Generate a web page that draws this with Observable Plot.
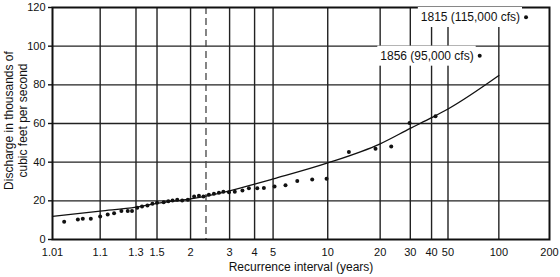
<!DOCTYPE html>
<html>
<head>
<meta charset="utf-8">
<script src="https://cdn.jsdelivr.net/npm/d3@7"></script>
<script src="https://cdn.jsdelivr.net/npm/@observablehq/plot@0.6"></script>
<style>
  body { margin: 0; background: #fff; }
  #chart svg { display: block; }
</style>
</head>
<body>
<div id="chart"></div>
<script>
// Axis ticks
const recurrenceTicks = [1.01, 1.1, 1.3, 1.5, 2, 3, 4, 5, 10, 20, 30, 40, 50, 100, 200];
const dischargeTicks = [0, 20, 40, 60, 80, 100, 120];

// Annual peak discharges (thousands of cfs) and their recurrence intervals (years)
const peakInterval = [1.02, 1.04, 1.05, 1.07, 1.10, 1.13, 1.16, 1.20, 1.24, 1.27,
  1.31, 1.35, 1.40, 1.45, 1.50, 1.58, 1.64, 1.70, 1.77, 1.85,
  1.95, 2.07, 2.17, 2.27, 2.40, 2.53, 2.67, 2.80, 2.98, 3.18,
  3.47, 3.74, 4.13, 4.47, 5.09, 5.83, 6.76, 8.18, 9.85, 13.2,
  18.8, 23.2, 29.7, 42.2];
const peakDischarge = [9.2, 10.3, 10.7, 10.7, 11.9, 12.9, 13.6, 14.8, 14.8, 14.8,
  16.4, 17.1, 17.6, 18.5, 19.0, 19.3, 19.8, 20.2, 20.5, 20.2,
  20.5, 22.2, 22.6, 22.2, 23.1, 23.6, 24.2, 24.7, 24.5, 24.7,
  25.3, 26.5, 26.5, 26.7, 27.4, 28.1, 30.2, 31.0, 31.4, 45.2,
  46.9, 48.1, 60.2, 63.8];

// Historic floods labelled on the chart
const historicLabels = ["1815 (115,000 cfs)", "1856 (95,000 cfs)"];
const historicInterval = [145, 77];
const historicDischarge = [115, 95];

// Fitted frequency curve
const fitInterval = [1.01, 1.1, 1.3, 1.5, 2, 3, 4, 5, 10, 20, 30, 40, 50, 100];
const fitDischarge = [12.0, 14.7, 16.7, 18.7, 21.0, 25.2, 28.6, 31.3, 39.6, 49.5, 57.5, 63.0, 67.5, 84.8];

// Mean annual flood (2.33-year recurrence interval)
const meanFloodInterval = [2.33];

// Gumbel extreme-value probability paper: reduced variate of the recurrence interval
const gumbel = T => -Math.log(-Math.log(1 - 1 / T));

const peaks = peakInterval.map((t, i) => ({t, q: peakDischarge[i]}));
const historic = historicInterval.map((t, i) => ({t, q: historicDischarge[i], label: historicLabels[i]}));
const fit = fitInterval.map((t, i) => ({t, q: fitDischarge[i]}));

const tickPositions = recurrenceTicks.map(gumbel);
const tickText = new Map(recurrenceTicks.map(t => [gumbel(t), String(t)]));

const font = "'Liberation Sans', Arial, Helvetica, sans-serif";

const chart = Plot.plot({
  width: 560,
  height: 277,
  marginLeft: 52,
  marginRight: 11,
  marginTop: 7,
  marginBottom: 38,
  style: {fontFamily: font, fontSize: "11px", color: "#111", background: "#fff"},
  x: {type: "linear", domain: [gumbel(1.01), gumbel(200)]},
  y: {domain: [0, 120]},
  marks: [
    // grid
    Plot.ruleX(tickPositions.slice(1, -1), {stroke: "#222", strokeWidth: 1.4}),
    Plot.ruleY(dischargeTicks.slice(1, -1), {stroke: "#222", strokeWidth: 1.4}),
    // mean annual flood
    Plot.ruleX(meanFloodInterval, {x: gumbel, stroke: "#444", strokeWidth: 1.3, strokeDasharray: "7,4"}),
    Plot.frame({stroke: "#111", strokeWidth: 2}),
    // frequency curve and observed peaks
    Plot.line(fit, {x: d => gumbel(d.t), y: "q", curve: "monotone-x", stroke: "#111", strokeWidth: 1.3}),
    Plot.dot(peaks, {x: d => gumbel(d.t), y: "q", r: 2, fill: "#111"}),
    Plot.dot(historic, {x: d => gumbel(d.t), y: "q", r: 2, fill: "#111"}),
    Plot.text(historic, {x: d => gumbel(d.t), y: "q", text: "label", textAnchor: "end", dx: -6, fontSize: 12, fill: "#111"}),
    // axes
    Plot.axisY(dischargeTicks, {tickSize: 4, tickPadding: 3, label: null, stroke: "#111", strokeWidth: 1.4}),
    Plot.axisX(tickPositions, {tickSize: 0, tickPadding: 9, tickFormat: v => tickText.get(v), label: null}),
    Plot.text(["Recurrence interval (years)"], {frameAnchor: "bottom", dy: 31, fontSize: 12, fill: "#111"}),
    Plot.text(["Discharge in thousands of\ncubic feet per second"], {
      frameAnchor: "left", textAnchor: "middle", rotate: -90, dx: -37.4, dy: -3,
      fontSize: 12, lineHeight: 1.17, fill: "#111"
    })
  ]
});

document.getElementById("chart").appendChild(chart);

// White boxes behind the historic-flood labels so the grid does not run through them
chart.querySelectorAll("text").forEach(t => {
  if (!t.textContent.includes("cfs")) return;
  const b = t.getBBox();
  const r = document.createElementNS("http://www.w3.org/2000/svg", "rect");
  r.setAttribute("x", b.x - 3);
  r.setAttribute("y", b.y - 3);
  r.setAttribute("width", b.width + 5);
  r.setAttribute("height", b.height + 6);
  r.setAttribute("fill", "#fff");
  const tr = t.getAttribute("transform");
  if (tr) r.setAttribute("transform", tr);
  t.parentNode.insertBefore(r, t);
});
</script>
</body>
</html>
